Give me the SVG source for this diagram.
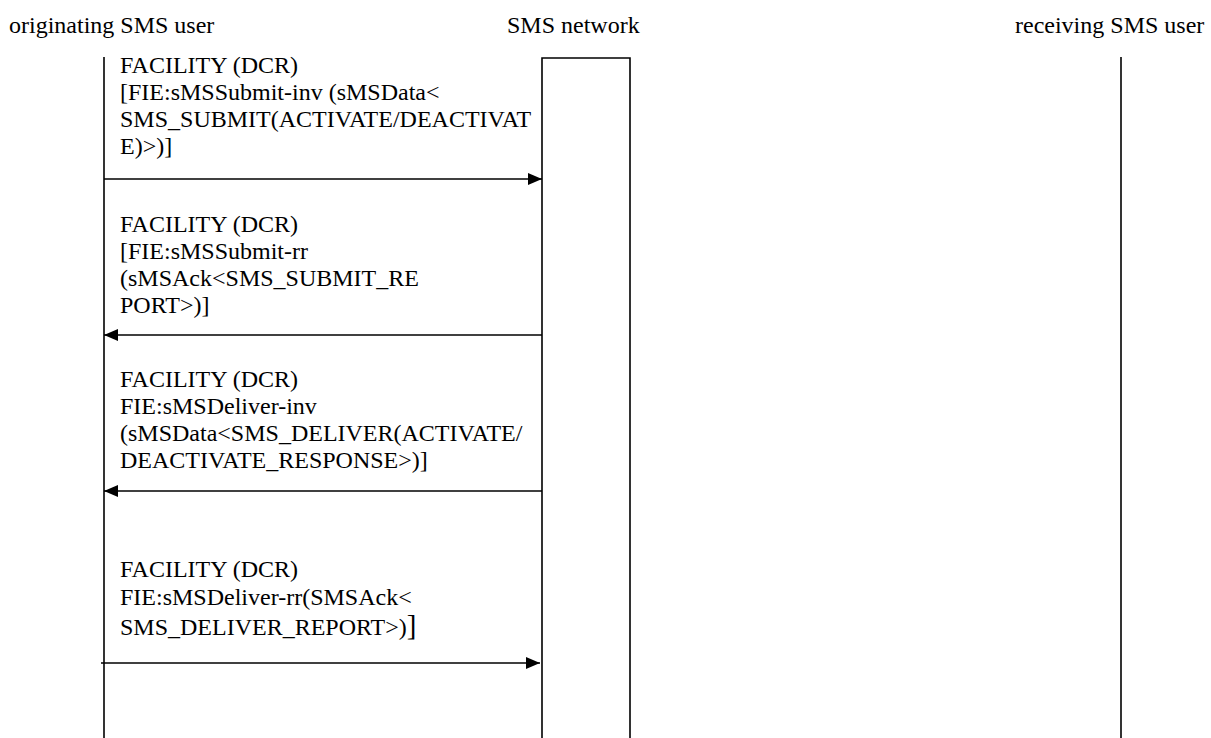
<svg xmlns="http://www.w3.org/2000/svg" width="1211" height="738" viewBox="0 0 1211 738">
<style>
text{font-family:"Liberation Serif","Times New Roman",serif;font-size:24px;fill:#000}
.ln{stroke:#000;stroke-width:1.6;fill:none}
</style>
<defs>
<marker id="ah" viewBox="0 0 14 12" refX="14" refY="6" markerWidth="14" markerHeight="12" markerUnits="userSpaceOnUse" orient="auto">
<path d="M0,0 L14,6 L0,12 Z" fill="#000"/>
</marker>
</defs>
<rect width="1211" height="738" fill="#fff"/>
<g id="originating">
<text x="9" y="33">originating SMS user</text>
<line class="ln" x1="104" y1="57" x2="104" y2="738"/>
</g>
<g id="network">
<text x="507" y="33">SMS network</text>
<path class="ln" d="M542,738 L542,58 L630,58 L630,738"/>
</g>
<g id="receiving">
<text x="1015" y="33">receiving SMS user</text>
<line class="ln" x1="1121" y1="57" x2="1121" y2="738"/>
</g>
<g id="connectors">
<line class="ln" x1="104" y1="179" x2="542" y2="179" marker-end="url(#ah)"/>
<line class="ln" x1="542" y1="335" x2="104" y2="335" marker-end="url(#ah)"/>
<line class="ln" x1="542" y1="491" x2="104" y2="491" marker-end="url(#ah)"/>
<line class="ln" x1="101" y1="663" x2="540" y2="663" marker-end="url(#ah)"/>
</g>
<g id="label1">
<text><tspan x="120" y="73">FACILITY (DCR)</tspan><tspan x="120" y="100">[FIE:sMSSubmit-inv (sMSData&lt;</tspan><tspan x="120" y="127">SMS_SUBMIT(ACTIVATE/DEACTIVAT</tspan><tspan x="120" y="154">E)&gt;)]</tspan></text>
</g>
<g id="label2">
<text><tspan x="120" y="232">FACILITY (DCR)</tspan><tspan x="120" y="259">[FIE:sMSSubmit-rr</tspan><tspan x="120" y="286">(sMSAck&lt;SMS_SUBMIT_RE</tspan><tspan x="120" y="313">PORT&gt;)]</tspan></text>
</g>
<g id="label3">
<text><tspan x="120" y="387">FACILITY (DCR)</tspan><tspan x="120" y="414">FIE:sMSDeliver-inv</tspan><tspan x="120" y="441">(sMSData&lt;SMS_DELIVER(ACTIVATE/</tspan><tspan x="120" y="468">DEACTIVATE_RESPONSE&gt;)]</tspan></text>
</g>
<g id="label4">
<text><tspan x="120" y="577">FACILITY (DCR)</tspan><tspan x="120" y="605">FIE:sMSDeliver-rr(SMSAck&lt;</tspan><tspan x="120" y="635">SMS_DELIVER_REPORT&gt;)<tspan font-size="29">]</tspan></tspan></text>
</g>
</svg>
